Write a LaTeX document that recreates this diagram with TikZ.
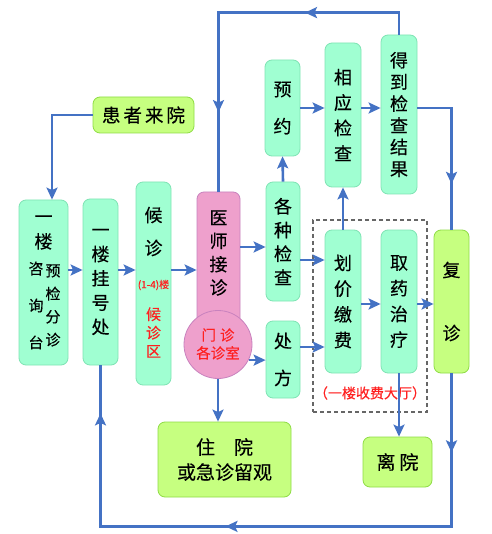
\documentclass[tikz,border=0pt]{standalone}
\usepackage{fontspec}
\newfontfamily\cjk[FakeBold=0.35]{Noto Sans CJK SC}
\usetikzlibrary{arrows.meta,decorations.markings}
\definecolor{mint}{HTML}{A0FFD2}
\definecolor{mintb}{HTML}{7FE3B4}
\definecolor{lgreen}{HTML}{C6FF80}
\definecolor{lgreenb}{HTML}{8FDC45}
\definecolor{pinkf}{HTML}{EEA0CC}
\definecolor{pinkb}{HTML}{C882BE}
\definecolor{flow}{HTML}{4472C4}
\definecolor{redt}{HTML}{FF2020}
\newcommand\myfs[2]{\cjk\fontsize{#1}{#2}\selectfont}
\tikzset{
  box/.style={draw=mintb, fill=mint, line width=0.8pt, rounded corners=7pt, inner sep=0pt, align=center},
  gbox/.style={box, draw=lgreenb, fill=lgreen},
  pbox/.style={box, draw=pinkb, fill=pinkf},
  txt/.style={inner sep=0pt, align=center},
  rtxt/.style={txt, text=redt},
  flowline/.style={draw=flow, color=flow, line width=2.6pt},
  tipA/.tip={Stealth[length=12pt,width=11pt,inset=2.5pt]},
  arr/.style={flowline, -tipA},
}
\begin{document}
\begin{tikzpicture}[x=1pt,y=-1pt]
\path[use as bounding box, fill=white] (0,0) rectangle (491,534);

% dashed hall frame
\node[draw=black!60, dash pattern=on 4pt off 3pt, line width=1.3pt, minimum width=114pt, minimum height=192pt, inner sep=0pt] (hall) at (370,316) {};
\node[rtxt, font=\myfs{14}{16}] (halllabel) at (370,393) {（一楼收费大厅）};

% nodes
\node[gbox, minimum width=101pt, minimum height=36pt, font=\myfs{18.5}{20}] (patient) at (143.5,115) {患\hspace{3pt}者\hspace{3pt}来\hspace{3pt}院};

\node[box, minimum width=49pt, minimum height=165pt] (zixun) at (43.5,282.5) {};
\node[txt, font=\myfs{18}{25}] (zixunA) at (43.5,232.5) {一\\楼};
\node[txt, font=\myfs{15}{37}] (zixunB) at (36,305.5) {咨\\询\\台};
\node[txt, font=\myfs{15}{23}] (zixunC) at (53,305.5) {预\\检\\分\\诊};

\node[box, minimum width=35pt, minimum height=166pt, font=\myfs{18}{24.25}] (guahao) at (100.5,282) {一\\楼\\挂\\号\\处};

\node[box, minimum width=35pt, minimum height=203pt] (houzhen) at (153.5,283.5) {};
\node[txt, font=\myfs{18}{33}] (houzhenA) at (153.5,231.5) {候\\诊};
\node[rtxt, font=\myfs{10}{12}] (houzhenB) at (153.5,285) {(1-4)楼};
\node[rtxt, font=\myfs{15}{18.5}] (houzhenC) at (153.5,332.5) {候\\诊\\区};

\node[pbox, minimum width=43pt, minimum height=168pt] (doctor) at (218.5,276) {};
\node[txt, font=\myfs{18}{23.3}] (doctorT) at (218.5,253) {医\\师\\接\\诊};
\node[circle, draw=pinkb, fill=pinkf, line width=0.8pt, minimum size=68pt, inner sep=0pt] (room) at (218,344.5) {};
\node[rtxt, font=\myfs{14.5}{18}] (roomT) at (218,344) {门\hspace{4pt}诊\\各诊室};

\node[box, minimum width=34pt, minimum height=119pt, font=\myfs{18}{23.7}] (gezhong) at (283,241.5) {各\\种\\检\\查};
\node[box, minimum width=34pt, minimum height=77pt, font=\myfs{18}{37}] (chufang) at (283,359.5) {处\\方};
\node[box, minimum width=36pt, minimum height=143pt, font=\myfs{18}{25.7}] (huajia) at (343,301.5) {划\\价\\缴\\费};
\node[box, minimum width=36pt, minimum height=143pt, font=\myfs{18}{25.7}] (quyao) at (399,301.5) {取\\药\\治\\疗};
\node[gbox, minimum width=35pt, minimum height=143pt, font=\myfs{18}{63}] (fuzhen) at (451.5,301.5) {复\\诊};

\node[box, minimum width=35pt, minimum height=96pt, font=\myfs{18}{37}] (yuyue) at (282.5,108) {预\\约};
\node[box, minimum width=36pt, minimum height=144pt, font=\myfs{18}{25.4}] (xiangying) at (343,115) {相\\应\\检\\查};
\node[box, minimum width=36pt, minimum height=159pt, font=\myfs{18}{21.7}] (dedao) at (399,114.5) {得\\到\\检\\查\\结\\果};

\node[gbox, minimum width=133pt, minimum height=75pt, font=\myfs{19}{25}] (zhuyuan) at (224.5,459.5) {住\hspace{1em}院\\或急诊留观};
\node[gbox, minimum width=69pt, minimum height=50pt, font=\myfs{19}{20}] (liyuan) at (397.5,462) {离\hspace{4pt}院};

% connectors
\draw[arr] (patient.west) -| ([xshift=8.5pt]zixun.north);
\draw[arr] (zixun.east |- 0,270) -- (guahao.west |- 0,270);
\draw[arr] (guahao.east |- 0,270) -- (houzhen.west |- 0,270);
\draw[arr] (houzhen.east |- 0,270) -- (doctor.west |- 0,270);
\draw[arr] (doctor.east |- 0,247) -- (gezhong.west |- 0,247);
\draw[arr] (gezhong.east |- 0,260) -- (huajia.west |- 0,260);
\draw[arr] (room.-27) -- (chufang.west |- room.-27);
\draw[arr] (chufang.east |- 0,347) -- (huajia.west |- 0,347);
\draw[arr] (huajia.east |- 0,304) -- (quyao.west |- 0,304);
\draw[arr] (quyao.east |- 0,304) -- (fuzhen.west |- 0,304);
\draw[arr] (gezhong.north) -- (yuyue.south);
\draw[arr] (huajia.north) -- (xiangying.south);
\draw[arr] (yuyue.east |- 0,108) -- (xiangying.west |- 0,108);
\draw[arr] (xiangying.east |- 0,108) -- (dedao.west |- 0,108);
\draw[arr] (quyao.south) -- (quyao.south |- liyuan.north);
\draw[arr] (room.south) -- (room.south |- zhuyuan.north);

\draw[flowline, postaction={decorate}, decoration={markings,
    mark=at position 116pt with {\arrow{tipA}},
    mark=at position 302pt with {\arrow{tipA}}}]
  (dedao.north) -- ++(0,-22) -| (doctor.north);
\draw[flowline, postaction={decorate}, decoration={markings,
    mark=at position 110pt with {\arrow{tipA}}}]
  (dedao.east |- 0,108) -| (fuzhen.north);
\draw[flowline, postaction={decorate}, decoration={markings,
    mark=at position 79pt with {\arrow{tipA}},
    mark=at position 379pt with {\arrow{tipA}},
    mark=at position 617pt with {\arrow{tipA}}}]
  (fuzhen.south) -- ++(0,153) -| (guahao.south);
\end{tikzpicture}
\end{document}
